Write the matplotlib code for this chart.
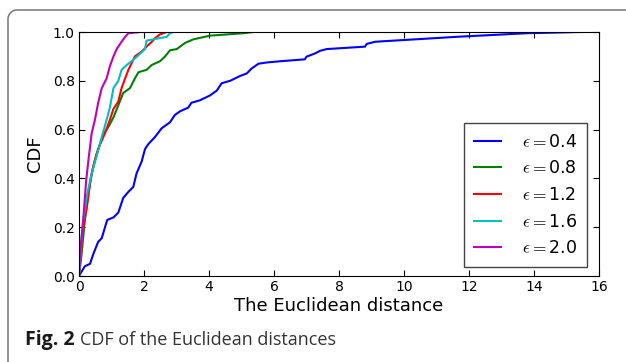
import matplotlib
matplotlib.use("Agg")
import matplotlib.pyplot as plt
import numpy as np
from matplotlib.lines import Line2D

plt.rcParams['mathtext.fontset'] = 'cm'

# CDF curves (distance, cumulative fraction)
x_04 = [0, 0.18, 0.34, 0.44, 0.59, 0.70, 0.80, 0.87, 1.06, 1.21, 1.36, 1.52, 1.67, 1.77, 1.93,
        2.03, 2.13, 2.34, 2.54, 2.80, 2.95, 3.11, 3.36, 3.46, 3.72, 4.03, 4.24, 4.39, 4.65, 4.96,
        5.16, 5.31, 5.52, 5.77, 6.18, 6.95, 7.0, 7.26, 7.42, 7.62, 8.80, 8.85, 9.11, 11.72, 13.78, 15.4]
y_04 = [0, 0.04, 0.05, 0.09, 0.14, 0.155, 0.20, 0.23, 0.24, 0.26, 0.32, 0.345, 0.365, 0.42, 0.47,
        0.52, 0.54, 0.57, 0.605, 0.63, 0.66, 0.675, 0.69, 0.71, 0.72, 0.74, 0.76, 0.79, 0.80, 0.82,
        0.83, 0.85, 0.87, 0.875, 0.88, 0.888, 0.899, 0.912, 0.923, 0.930, 0.940, 0.951, 0.960, 0.981, 0.995, 1.0]

x_08 = [0, 0.08, 0.18, 0.29, 0.39, 0.49, 0.59, 0.75, 0.90, 1.06, 1.21, 1.36, 1.57, 1.72, 1.83,
        2.08, 2.24, 2.49, 2.65, 2.80, 3.01, 3.26, 3.52, 4.03, 4.54, 5.06, 5.36]
y_08 = [0, 0.09, 0.23, 0.34, 0.42, 0.475, 0.52, 0.58, 0.61, 0.65, 0.70, 0.75, 0.77, 0.81, 0.835,
        0.845, 0.865, 0.88, 0.90, 0.925, 0.93, 0.955, 0.97, 0.985, 0.99, 0.995, 1.0]

x_12 = [0, 0.05, 0.13, 0.24, 0.34, 0.44, 0.54, 0.65, 0.80, 0.95, 1.06, 1.21, 1.31, 1.42, 1.52,
        1.72, 1.93, 2.08, 2.24, 2.34, 2.49, 2.70]
y_12 = [0, 0.09, 0.20, 0.28, 0.38, 0.45, 0.50, 0.54, 0.585, 0.64, 0.685, 0.715, 0.77, 0.81, 0.845,
        0.90, 0.92, 0.94, 0.96, 0.975, 0.99, 1.0]

x_16 = [0, 0.05, 0.13, 0.26, 0.39, 0.54, 0.70, 0.85, 0.95, 1.06, 1.21, 1.31, 1.47, 1.62, 1.83,
        2.03, 2.08, 2.49, 2.70, 2.80, 2.90]
y_16 = [0, 0.105, 0.23, 0.34, 0.42, 0.49, 0.57, 0.64, 0.69, 0.77, 0.80, 0.845, 0.865, 0.88, 0.905,
        0.93, 0.965, 0.975, 0.98, 0.995, 1.0]

x_20 = [0, 0.03, 0.13, 0.22, 0.29, 0.39, 0.49, 0.59, 0.70, 0.85, 0.95, 1.06, 1.16, 1.31, 1.42,
        1.52, 1.88, 2.39]
y_20 = [0, 0.09, 0.23, 0.39, 0.475, 0.585, 0.64, 0.71, 0.77, 0.81, 0.86, 0.90, 0.93, 0.96, 0.98,
        0.995, 1.0, 1.0]

labels = [r'$\epsilon=$0.4', r'$\epsilon=$0.8', r'$\epsilon=$1.2', r'$\epsilon=$1.6', r'$\epsilon=$2.0']

W, H = 626, 362
fig = plt.figure(figsize=(W / 100, H / 100), dpi=100)

# rounded frame (top-left corner only visible), drawn in pixel units
r = 9
t = np.linspace(np.pi, np.pi / 2, 20)
fx = np.concatenate([[8, 8], 8 + r + r * np.cos(t), [W + 5]])
fy = np.concatenate([[H + 5, 10 + r], 10 + r - r * np.sin(t), [10]])
fig.lines.append(Line2D(fx / W, 1 - fy / H, transform=fig.transFigure,
                        color='#777777', lw=1.1))

ax = fig.add_axes([79 / W, 86 / H, 520 / W, 244 / H])
ax.plot(x_04, y_04, color='b', lw=1.5, label=labels[0])
ax.plot(x_08, y_08, color='g', lw=1.5, label=labels[1])
ax.plot(x_12, y_12, color='r', lw=1.5, label=labels[2])
ax.plot(x_16, y_16, color='c', lw=1.5, label=labels[3])
ax.plot(x_20, y_20, color='m', lw=1.5, label=labels[4])

ax.set_xlim(0, 16)
ax.set_ylim(0, 1)
ax.set_xticks(range(0, 17, 2))
ax.set_yticks([0, 0.2, 0.4, 0.6, 0.8, 1.0])
ax.set_yticklabels(['0.0', '0.2', '0.4', '0.6', '0.8', '1.0'])
ax.tick_params(direction='in', top=True, right=True, length=4, labelsize=10, pad=3)
ax.set_xlabel('The Euclidean distance', fontsize=13, labelpad=2)
ax.set_ylabel('CDF', fontsize=13, labelpad=6)

leg = ax.legend(loc='lower right', bbox_to_anchor=(508 / 520, 9 / 244), borderaxespad=0,
                fontsize=12.5, fancybox=False, framealpha=1, edgecolor='#444444',
                handlelength=1.6, handletextpad=1.2, labelspacing=0.5, borderpad=0.55)
leg.get_frame().set_linewidth(1.0)

fig.text(25 / W, 1 - 345 / H, 'Fig. 2', fontsize=14, fontweight='bold',
         family='Open Sans', va='baseline', color='#1a1a1a')
fig.text(80 / W, 1 - 345 / H, 'CDF of the Euclidean distances', fontsize=13,
         family='Open Sans', va='baseline', color='#333333')

fig.savefig('out.png', dpi=100)
